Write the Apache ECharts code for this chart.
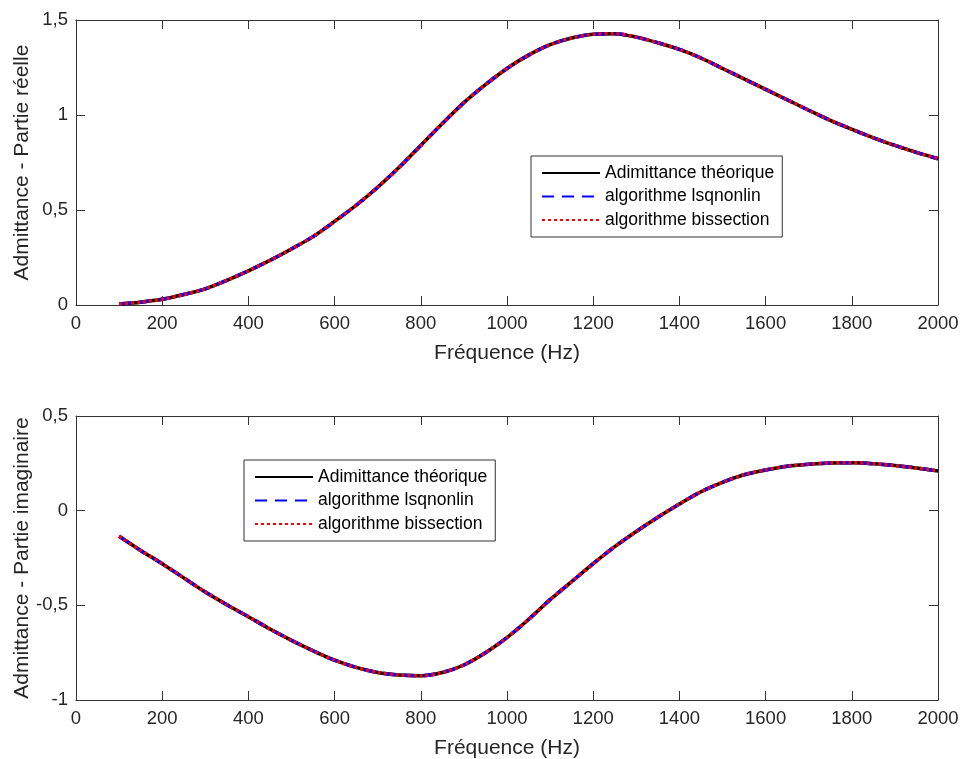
<!DOCTYPE html>
<html>
<head>
<meta charset="utf-8">
<script src="https://cdn.jsdelivr.net/npm/echarts@6/dist/echarts.min.js"></script>
<style>
html,body{margin:0;padding:0;background:#fff;}
#chart{width:960px;height:759px;}
</style>
</head>
<body>
<div id="chart"></div>
<script>
// Frequencies (Hz)
const freq = [100,150,200,250,300,350,400,450,500,550,600,650,700,750,800,850,900,950,1000,1050,1100,1150,1200,1250,1300,1350,1400,1450,1500,1550,1600,1650,1700,1750,1800,1850,1900,1950,2000];
// Real part (top plot)
const realTheo = [0.005,0.015,0.03,0.055,0.085,0.13,0.18,0.235,0.295,0.36,0.44,0.525,0.62,0.725,0.84,0.955,1.065,1.16,1.245,1.315,1.37,1.405,1.425,1.428,1.41,1.38,1.345,1.30,1.245,1.19,1.135,1.08,1.025,0.972,0.925,0.88,0.84,0.803,0.77];
const realLsq  = [0.005,0.015,0.03,0.055,0.085,0.13,0.18,0.235,0.295,0.36,0.44,0.525,0.62,0.725,0.84,0.955,1.065,1.16,1.245,1.315,1.37,1.405,1.425,1.428,1.41,1.38,1.345,1.30,1.245,1.19,1.135,1.08,1.025,0.972,0.925,0.88,0.84,0.803,0.77];
const realBis  = [0.005,0.015,0.03,0.055,0.085,0.13,0.18,0.235,0.295,0.36,0.44,0.525,0.62,0.725,0.84,0.955,1.065,1.16,1.245,1.315,1.37,1.405,1.425,1.428,1.41,1.38,1.345,1.30,1.245,1.19,1.135,1.08,1.025,0.972,0.925,0.88,0.84,0.803,0.77];
// Imaginary part (bottom plot)
const imagTheo = [-0.135,-0.21,-0.28,-0.355,-0.43,-0.497,-0.56,-0.625,-0.685,-0.74,-0.79,-0.828,-0.855,-0.868,-0.872,-0.855,-0.815,-0.75,-0.67,-0.575,-0.47,-0.375,-0.28,-0.19,-0.11,-0.035,0.035,0.10,0.15,0.19,0.215,0.235,0.245,0.252,0.253,0.248,0.238,0.225,0.21];
const imagLsq  = [-0.135,-0.21,-0.28,-0.355,-0.43,-0.497,-0.56,-0.625,-0.685,-0.74,-0.79,-0.828,-0.855,-0.868,-0.872,-0.855,-0.815,-0.75,-0.67,-0.575,-0.47,-0.375,-0.28,-0.19,-0.11,-0.035,0.035,0.10,0.15,0.19,0.215,0.235,0.245,0.252,0.253,0.248,0.238,0.225,0.21];
const imagBis  = [-0.135,-0.21,-0.28,-0.355,-0.43,-0.497,-0.56,-0.625,-0.685,-0.74,-0.79,-0.828,-0.855,-0.868,-0.872,-0.855,-0.815,-0.75,-0.67,-0.575,-0.47,-0.375,-0.28,-0.19,-0.11,-0.035,0.035,0.10,0.15,0.19,0.215,0.235,0.245,0.252,0.253,0.248,0.238,0.225,0.21];

const names = ['Adimittance théorique','algorithme lsqnonlin','algorithme bissection'];
const xTitle = 'Fréquence (Hz)';
const yTitleTop = 'Admittance - Partie réelle';
const yTitleBottom = 'Admittance - Partie imaginaire';

const FONT = '"Liberation Sans", Arial, sans-serif';
const AX = '#333333';
const TXT = '#262626';
const fmtY = v => String(v).replace('.', ',');
const fmtX = v => String(v);
const pairs = (xs, ys) => xs.map((x, i) => [x, ys[i]]);

function xAx(grid, main) {
  return {
    type: 'value', gridIndex: grid, min: 0, max: 2000, interval: 200,
    position: main ? 'bottom' : 'top',
    name: main ? xTitle : '', nameLocation: 'middle', nameGap: 38, nameMoveOverlap: false,
    nameTextStyle: {fontFamily: FONT, fontSize: 21, color: TXT},
    axisLine: {show: true, onZero: false, lineStyle: {color: AX, width: 1}},
    axisTick: {show: true, inside: true, length: 9, lineStyle: {color: AX}},
    axisLabel: {show: main, margin: 9, fontFamily: FONT, fontSize: 18.5, color: TXT, formatter: fmtX},
    splitLine: {show: false}
  };
}
function yAx(grid, main, min, max, title) {
  return {
    type: 'value', gridIndex: grid, min: min, max: max, interval: 0.5,
    position: main ? 'left' : 'right',
    name: main ? title : '', nameLocation: 'middle', nameGap: 43, nameMoveOverlap: false,
    nameTextStyle: {fontFamily: FONT, fontSize: 21, color: TXT},
    axisLine: {show: true, onZero: false, lineStyle: {color: AX, width: 1}},
    axisTick: {show: true, inside: true, length: 9, lineStyle: {color: AX}},
    axisLabel: {show: main, margin: 8, fontFamily: FONT, fontSize: 18.5, color: TXT, formatter: fmtY},
    splitLine: {show: false}
  };
}
function ser(name, data, xi, yi, style, z) {
  return {
    name: name, type: 'line', xAxisIndex: xi, yAxisIndex: yi, data: data,
    smooth: 0.3, symbol: 'none', z: z, animation: false,
    lineStyle: style, itemStyle: {color: style.color}
  };
}
const sBlack = {color: '#000000', width: 3.5, type: 'solid'};
const sBlue = {color: '#0000ff', width: 3.5, type: [12, 8]};
const sRed = {color: '#ff0000', width: 3.5, type: [3, 3]};

const legendBase = {
  orient: 'vertical', data: names, itemWidth: 58, itemHeight: 12, itemGap: 3.5,
  padding: [7, 8, 7, 10], backgroundColor: '#fff', borderColor: '#333', borderWidth: 1,
  borderRadius: 0, selectedMode: false,
  itemStyle: {opacity: 0, color: 'transparent', borderWidth: 0},
  textStyle: {fontFamily: FONT, fontSize: 17.5, color: '#000', lineHeight: 20}
};

const chart = echarts.init(document.getElementById('chart'), null, {renderer: 'canvas'});
chart.setOption({
  animation: false,
  backgroundColor: '#fff',
  grid: [
    {left: 76, right: 22, top: 20, height: 285, containLabel: false, outerBoundsMode: 'none'},
    {left: 76, right: 22, top: 416, height: 284, containLabel: false, outerBoundsMode: 'none'}
  ],
  legend: [
    Object.assign({}, legendBase, {left: 531, top: 156}),
    Object.assign({}, legendBase, {left: 244, top: 460})
  ],
  xAxis: [xAx(0, true), xAx(0, false), xAx(1, true), xAx(1, false)],
  yAxis: [yAx(0, true, 0, 1.5, yTitleTop), yAx(0, false, 0, 1.5), yAx(1, true, -1, 0.5, yTitleBottom), yAx(1, false, -1, 0.5)],
  series: [
    ser(names[0], pairs(freq, realTheo), 0, 0, sBlack, 2),
    ser(names[1], pairs(freq, realLsq), 0, 0, sBlue, 3),
    ser(names[2], pairs(freq, realBis), 0, 0, sRed, 4),
    ser(names[0], pairs(freq, imagTheo), 2, 2, sBlack, 2),
    ser(names[1], pairs(freq, imagLsq), 2, 2, sBlue, 3),
    ser(names[2], pairs(freq, imagBis), 2, 2, sRed, 4)
  ]
});
</script>
</body>
</html>
